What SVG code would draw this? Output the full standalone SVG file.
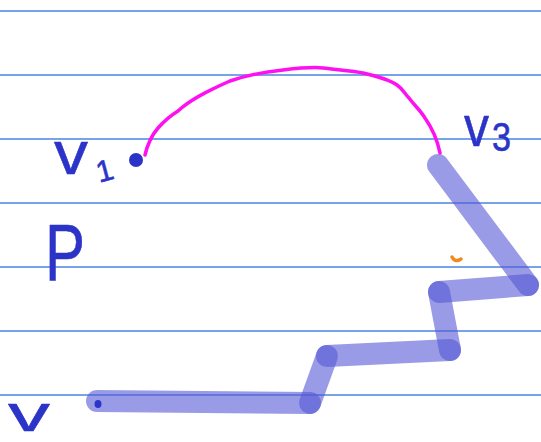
<svg xmlns="http://www.w3.org/2000/svg" width="541" height="442" viewBox="0 0 541 442">
<style>
.rule{stroke:#4a86e0;stroke-width:1.3}
.hl{stroke:#5759d5;stroke-opacity:0.6;stroke-width:22;stroke-linecap:round;fill:none}
.ink{fill:#2c34c8;stroke:#2c34c8;stroke-width:0.6;stroke-linejoin:round;font-family:"Liberation Sans",sans-serif}
</style>
<rect width="541" height="442" fill="#ffffff"/>
<g id="rules">
<line class="rule" x1="0" y1="11" x2="541" y2="11"/>
<line class="rule" x1="0" y1="75" x2="541" y2="75"/>
<line class="rule" x1="0" y1="139" x2="541" y2="139"/>
<line class="rule" x1="0" y1="203" x2="541" y2="203"/>
<line class="rule" x1="0" y1="267" x2="541" y2="267"/>
<line class="rule" x1="0" y1="331" x2="541" y2="331"/>
<line class="rule" x1="0" y1="395" x2="541" y2="395"/>
</g>
<g id="path-P">
<line class="hl" x1="97" y1="401" x2="310" y2="403"/>
<line class="hl" x1="310" y1="403" x2="327" y2="356"/>
<line class="hl" x1="327" y1="356" x2="450" y2="350"/>
<line class="hl" x1="450" y1="350" x2="439" y2="292"/>
<line class="hl" x1="439" y1="292" x2="528" y2="285"/>
<line class="hl" x1="528" y1="285" x2="438" y2="165"/>
<ellipse cx="98" cy="404" rx="3.5" ry="4" fill="#2c34c8"/>
</g>
<g id="arc">
<path d="M145,155 C148,142 152,135 158,128 C165,120 170,116 178,111 C190,100 205,92 230,81 C250,74 265,72 283,70 C300,68 315,67 323,68 C340,70 355,71 363,73 C380,77 390,80 397,85 C403,89 404,93 409,98 C415,106 420,110 425,118 C432,128 437,138 440,153" fill="none" stroke="#ff10f0" stroke-width="3.5" stroke-linecap="round" stroke-linejoin="round"/>
</g>
<g id="v1">
<ellipse cx="136" cy="160" rx="7" ry="7" fill="#2c34c8"/>
<text class="ink" x="54" y="174" font-size="62" textLength="34" lengthAdjust="spacingAndGlyphs">v</text>
<text class="ink" x="96" y="182" font-size="30" transform="rotate(-15 100 170)">1</text>
</g>
<g id="v3">
<text class="ink" x="464" y="146" font-size="58" textLength="25" lengthAdjust="spacingAndGlyphs">v</text>
<text class="ink" x="492" y="151" font-size="40" textLength="19" lengthAdjust="spacingAndGlyphs">3</text>
</g>
<g id="labelP">
<text class="ink" x="45" y="280" font-size="80" textLength="40" lengthAdjust="spacingAndGlyphs">P</text>
</g>
<g id="v">
<text class="ink" x="8" y="431" font-size="50" textLength="42" lengthAdjust="spacingAndGlyphs">v</text>
</g>
<path d="M452,257 Q455,263 461,259" fill="none" stroke="#f08a1a" stroke-width="3.5" stroke-linecap="round"/>
</svg>
